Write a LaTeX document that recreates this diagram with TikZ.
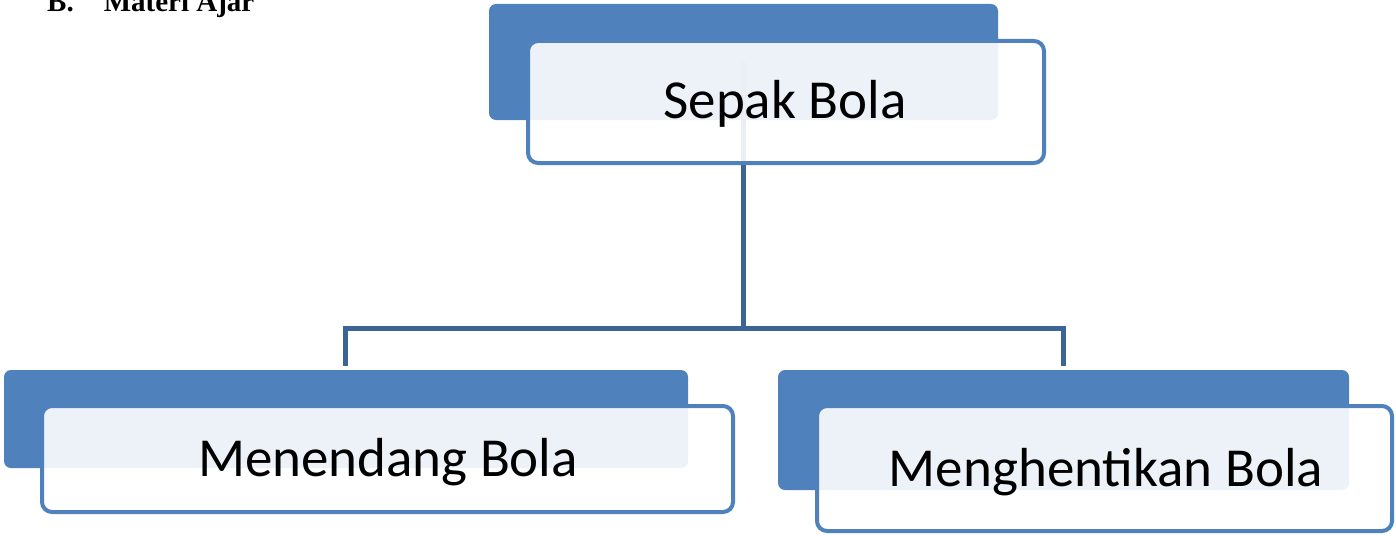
\documentclass[tikz,border=0pt]{standalone}
\usepackage{fontspec}
\setmainfont{Carlito}
\newfontfamily\headfont{Liberation Serif}
\definecolor{accblue}{HTML}{4F81BD}
\definecolor{linkblue}{HTML}{3D6496}
\begin{document}
\begin{tikzpicture}[x=1pt,y=-1pt,
  backbox/.style={draw=none, fill=accblue, rounded corners=7pt, inner sep=0pt},
  frontbox/.style={draw=accblue, line width=4pt, fill=white, fill opacity=0.9, text opacity=1, rounded corners=10pt, inner sep=0pt},
  lbl/.style={font=\fontsize{55}{66}\selectfont, inner sep=0pt, anchor=base},
  link/.style={draw=linkblue, line width=5pt}]
\useasboundingbox (0,0) rectangle (1396,535);
\clip (0,0) rectangle (1396,535);
% header
\node[anchor=base west, inner sep=0pt, font=\headfont\bfseries\fontsize{29}{34}\selectfont] (hd) at (47,12) {B.\hspace{30pt}Materi Ajar};
% back boxes
\node[backbox, minimum width=509pt, minimum height=116pt] (tb) at (743.5,62) {};
\node[backbox, minimum width=684pt, minimum height=98pt] (lb) at (346,419) {};
\node[backbox, minimum width=571pt, minimum height=120pt] (rb) at (1063.5,430) {};
% connectors
\coordinate (j1) at (743.5,328.5);
\coordinate (jl) at (345.5,328.5);
\coordinate (jr) at (1063.5,328.5);
\coordinate (el) at (345.5,363);
\coordinate (er) at (1063.5,363);
\draw[link] (tb.center) -- (j1);
\draw[link, line cap=rect] (el) -- (jl) -- (jr) -- (er);
% front boxes
\node[frontbox, minimum width=516pt, minimum height=122pt] (tf) at (786,102) {};
\node[frontbox, minimum width=691pt, minimum height=106pt] (lf) at (387.5,459) {};
\node[frontbox, minimum width=575pt, minimum height=125pt] (rf) at (1104.5,468.5) {};
% labels
\node[lbl] (t1) at (785,118) {Sepak Bola};
\node[lbl] (t2) at (388,476) {Menendang Bola};
\node[lbl] (t3) at (1106,486) {Menghentikan Bola};
\end{tikzpicture}
\end{document}
